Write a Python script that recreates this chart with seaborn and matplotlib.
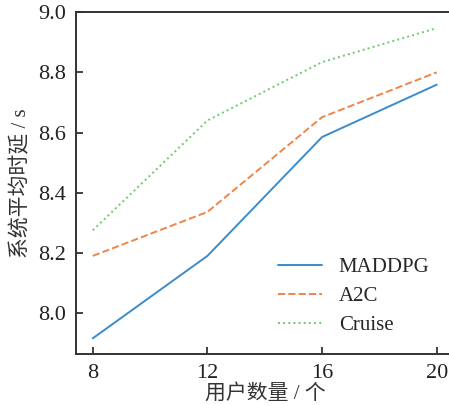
import matplotlib
matplotlib.use("Agg")
import matplotlib.pyplot as plt
import seaborn as sns
import pandas as pd

users = [8, 12, 16, 20]
maddpg = [7.916, 8.190, 8.585, 8.759]
a2c = [8.190, 8.336, 8.651, 8.800]
cruise = [8.275, 8.640, 8.834, 8.947]
series_names = ["MADDPG", "A2C", "Cruise"]
colors = ["#3a8ccc", "#ee854a", "#6acc64"]
styles = ["-", "--", ":"]

sns.set_style("ticks")
plt.rcParams['font.family'] = ['Liberation Serif', 'Noto Sans CJK SC']
plt.rcParams['axes.unicode_minus'] = False

df = pd.DataFrame({
    "users": users * 3,
    "value": maddpg + a2c + cruise,
    "series": sum([[n] * len(users) for n in series_names], []),
})

fig = plt.figure(figsize=(4.49, 4.05), dpi=100)
ax = fig.add_axes([0.169, 0.126, 0.842, 0.844])

for name, c, ls in zip(series_names, colors, styles):
    sub = df[df["series"] == name]
    sns.lineplot(data=sub, x="users", y="value", ax=ax, color=c, linestyle=ls,
                 linewidth=1.4, label=name)

ax.set_xlim(7.41, 20.6)
ax.set_ylim(7.864, 9.0)
ax.set_xticks(users)
ax.set_yticks([8.0, 8.2, 8.4, 8.6, 8.8, 9.0])
ax.set_yticklabels(["8.0", "8.2", "8.4", "8.6", "8.8", "9.0"])
ax.tick_params(direction="in", length=5, width=1.2, labelsize=16, colors="#222222", pad=7)
for s in ax.spines.values():
    s.set_linewidth(1.4)
    s.set_color("#333333")
ax.set_xlabel("用户数量 / 个", fontsize=15, color="#333333", labelpad=1)
ax.set_ylabel("系统平均时延 / s", fontsize=15, color="#333333", labelpad=5)
leg = ax.legend(loc="lower right", bbox_to_anchor=(0.985, 0.0), frameon=False,
                fontsize=15, handlelength=2.1, handletextpad=0.8, labelspacing=0.45)

fig.savefig("out.png", dpi=100)
